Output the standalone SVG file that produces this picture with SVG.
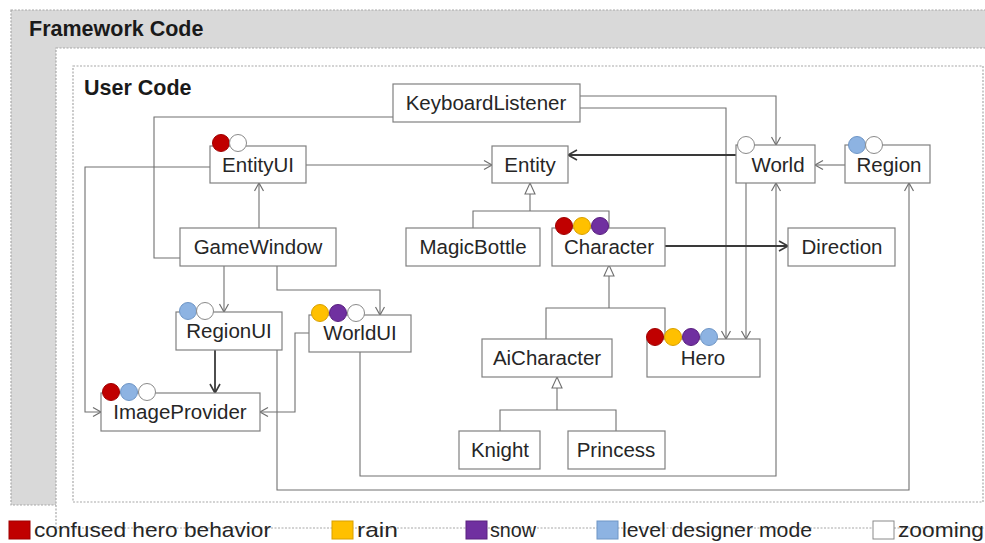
<svg xmlns="http://www.w3.org/2000/svg" width="985" height="543" viewBox="0 0 985 543">
<defs>
<marker id="arr" markerUnits="userSpaceOnUse" markerWidth="12" markerHeight="12" refX="9" refY="5" orient="auto">
<path d="M1,0.5 L9,5 L1,9.5" fill="none" stroke="#6f6f6f" stroke-width="1.2"/>
</marker>
<marker id="arrD" markerUnits="userSpaceOnUse" markerWidth="14" markerHeight="14" refX="10" refY="6" orient="auto">
<path d="M1,1 L10,6 L1,11" fill="none" stroke="#3a3a3a" stroke-width="1.6"/>
</marker>
</defs>
<style>
.fw{fill:#d9d9d9;stroke:#a8a8a8;stroke-width:1.2;stroke-dasharray:2 1.5}
.in{fill:#ffffff;stroke:#a8a8a8;stroke-width:1.2;stroke-dasharray:2 1.5}
.title{font-family:"Liberation Sans",Arial,sans-serif;font-weight:bold;font-size:21.5px;fill:#1a1a1a}
.box{fill:#ffffff;stroke:#808080;stroke-width:1.2}
.lbl{font-family:"Liberation Sans",Arial,sans-serif;font-size:20.5px;fill:#262626;text-anchor:middle}
.c{fill:none;stroke:#707070;stroke-width:1.1}
.cd{fill:none;stroke:#3a3a3a;stroke-width:1.8}
.tri{fill:#ffffff;stroke:#707070;stroke-width:1.1}
.red{fill:#c00000;stroke:#a00000;stroke-width:1}
.yel{fill:#ffc000;stroke:#d9a000;stroke-width:1}
.pur{fill:#7030a0;stroke:#5a2080;stroke-width:1}
.blu{fill:#8db3e2;stroke:#6f96c6;stroke-width:1}
.wht{fill:#ffffff;stroke:#8a8a8a;stroke-width:1}
.leg{font-family:"Liberation Sans",Arial,sans-serif;font-size:21px;fill:#262626}
</style>
<rect x="0" y="0" width="985" height="543" fill="#ffffff"/>
<g id="framework">
<rect class="fw" x="11" y="10" width="990" height="495"/>
<rect class="in" x="56" y="48" width="950" height="480"/>
<text class="title" x="29" y="36">Framework Code</text>
</g>
<g id="usercode">
<rect class="in" x="73" y="66" width="910" height="436"/>
<text class="title" x="84" y="95">User Code</text>
</g>
<g id="connectors">
<path class="c" d="M393,117 H154 V258 H180"/>
<path class="c" d="M580,96 H776 V145" marker-end="url(#arr)"/>
<path class="c" d="M580,108 H726 V339" marker-end="url(#arr)"/>
<path class="c" d="M306,165 H492" marker-end="url(#arr)"/>
<path class="c" d="M210,167 H85 V412 H101" marker-end="url(#arr)"/>
<path class="c" d="M259,228 V183" marker-end="url(#arr)"/>
<path class="c" d="M224,266 V312" marker-end="url(#arr)"/>
<path class="c" d="M277,266 V290 H380 V315" marker-end="url(#arr)"/>
<path class="cd" d="M736,155 H568" marker-end="url(#arrD)"/>
<path class="c" d="M845,165 H815" marker-end="url(#arr)"/>
<path class="c" d="M746,183 V339" marker-end="url(#arr)"/>
<path class="c" d="M360,352 V476 H776 V183" marker-end="url(#arr)"/>
<path class="c" d="M277,350 V490 H909 V183" marker-end="url(#arr)"/>
<path class="cd" d="M215,350 V393" marker-end="url(#arrD)"/>
<path class="c" d="M309,333 H295 V412 H260" marker-end="url(#arr)"/>
<path class="cd" d="M665,246 H788" marker-end="url(#arrD)"/>
<path class="c" d="M530,194 V211 M473,228 V211 H609 V228"/>
<path class="tri" d="M530,183 L535,194 L525,194 Z"/>
<path class="c" d="M609,276 V308 M546,339 V308 H665 V339"/>
<path class="tri" d="M609,265 L614,276 L604,276 Z"/>
<path class="c" d="M557,388 V410 M500,431 V410 H616 V431"/>
<path class="tri" d="M557,377 L562,388 L552,388 Z"/>
</g>
<g id="KeyboardListener"><rect class="box" x="393" y="84" width="187" height="38"/><text class="lbl" x="486" y="110">KeyboardListener</text></g>
<g id="EntityUI"><rect class="box" x="210" y="146" width="96" height="37"/><text class="lbl" x="258" y="172">EntityUI</text>
<circle class="red" cx="221" cy="143" r="8.5"/><circle class="wht" cx="238" cy="143" r="8.5"/></g>
<g id="Entity"><rect class="box" x="492" y="146" width="76" height="37"/><text class="lbl" x="530" y="172">Entity</text></g>
<g id="World"><rect class="box" x="736" y="145" width="79" height="38"/><text class="lbl" x="778" y="172">World</text>
<circle class="wht" cx="746" cy="145" r="8.5"/></g>
<g id="Region"><rect class="box" x="845" y="145" width="85" height="38"/><text class="lbl" x="889" y="172">Region</text>
<circle class="blu" cx="857" cy="145" r="8.5"/><circle class="wht" cx="874" cy="145" r="8.5"/></g>
<g id="GameWindow"><rect class="box" x="180" y="228" width="156" height="38"/><text class="lbl" x="258" y="254">GameWindow</text></g>
<g id="MagicBottle"><rect class="box" x="406" y="228" width="134" height="38"/><text class="lbl" x="473" y="254">MagicBottle</text></g>
<g id="Character"><rect class="box" x="552" y="228" width="113" height="38"/><text class="lbl" x="609" y="254">Character</text>
<circle class="red" cx="564" cy="226" r="8.5"/><circle class="yel" cx="582" cy="226" r="8.5"/><circle class="pur" cx="600" cy="226" r="8.5"/></g>
<g id="Direction"><rect class="box" x="788" y="228" width="107" height="38"/><text class="lbl" x="842" y="254">Direction</text></g>
<g id="RegionUI"><rect class="box" x="176" y="312" width="106" height="38"/><text class="lbl" x="229" y="338">RegionUI</text>
<circle class="blu" cx="188" cy="311" r="8.5"/><circle class="wht" cx="205" cy="311" r="8.5"/></g>
<g id="WorldUI"><rect class="box" x="309" y="315" width="102" height="37"/><text class="lbl" x="360" y="340">WorldUI</text>
<circle class="yel" cx="320" cy="313" r="8.5"/><circle class="pur" cx="338" cy="313" r="8.5"/><circle class="wht" cx="356" cy="313" r="8.5"/></g>
<g id="AiCharacter"><rect class="box" x="482" y="339" width="130" height="38"/><text class="lbl" x="547" y="365">AiCharacter</text></g>
<g id="Hero"><rect class="box" x="647" y="339" width="113" height="38"/><text class="lbl" x="703" y="365">Hero</text>
<circle class="red" cx="655" cy="337" r="8.5"/><circle class="yel" cx="673" cy="337" r="8.5"/><circle class="pur" cx="691" cy="337" r="8.5"/><circle class="blu" cx="709" cy="337" r="8.5"/></g>
<g id="ImageProvider"><rect class="box" x="101" y="393" width="159" height="38"/><text class="lbl" x="180" y="419">ImageProvider</text>
<circle class="red" cx="111" cy="392" r="8.5"/><circle class="blu" cx="129" cy="392" r="8.5"/><circle class="wht" cx="147" cy="392" r="8.5"/></g>
<g id="Knight"><rect class="box" x="459" y="431" width="81" height="38"/><text class="lbl" x="500" y="457">Knight</text></g>
<g id="Princess"><rect class="box" x="568" y="431" width="97" height="38"/><text class="lbl" x="616" y="457">Princess</text></g>
<g id="legend">
<rect class="red" x="9" y="521" width="21" height="18"/><text class="leg" x="34" y="537" textLength="237" lengthAdjust="spacingAndGlyphs">confused hero behavior</text>
<rect class="yel" x="332" y="521" width="21" height="18"/><text class="leg" x="357" y="537" textLength="41" lengthAdjust="spacingAndGlyphs">rain</text>
<rect class="pur" x="466" y="521" width="21" height="18"/><text class="leg" x="490" y="537" textLength="46" lengthAdjust="spacingAndGlyphs">snow</text>
<rect class="blu" x="597" y="521" width="21" height="18"/><text class="leg" x="622" y="537" textLength="190" lengthAdjust="spacingAndGlyphs">level designer mode</text>
<rect class="wht" x="873" y="521" width="21" height="18"/><text class="leg" x="898" y="537" textLength="86" lengthAdjust="spacingAndGlyphs">zooming</text>
</g>
</svg>
